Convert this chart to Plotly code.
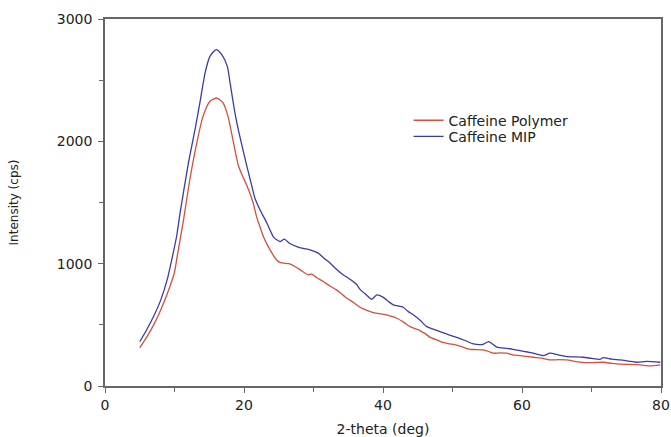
import plotly.graph_objects as go

# Caffeine Polymer (red)
polymer_x = [5, 6, 7, 8, 9, 10, 10.3, 11.3, 12.2, 13.2, 14.1, 15.1, 16.1, 17.0, 17.7, 18.5, 19.2,
             19.8, 20.4, 21.3, 21.8, 22.3, 22.8, 23.3, 24.2, 24.7, 25.2, 26.6, 27.4, 28.1, 29.3,
             29.7, 30.5, 31.4, 32.3, 33.3, 34.8, 35.8, 36.7, 37.6, 38.6, 39.5, 40.5, 42.0, 43.0,
             43.9, 45.3, 46.0, 46.8, 47.8, 48.7, 49.6, 50.6, 51.5, 52.5, 53.5, 54.4, 55.2, 55.9,
             56.8, 57.8, 58.7, 60.2, 61.6, 62.8, 64.0, 65.2, 66.4, 67.8, 69.3, 70.5, 71.7, 72.9,
             74.1, 75.5, 77.0, 78.4, 79.9]
polymer_y = [313, 400, 500, 620, 760, 930, 1031, 1358, 1686, 1986, 2204, 2327, 2354, 2313, 2204,
             1986, 1800, 1715, 1640, 1500, 1385, 1300, 1220, 1160, 1070, 1030, 1008, 998, 975,
             949, 908, 917, 885, 854, 820, 786, 718, 680, 644, 620, 600, 592, 581, 554, 520, 485,
             453, 430, 398, 375, 354, 345, 335, 318, 300, 298, 295, 282, 268, 270, 268, 254, 245,
             235, 228, 213, 215, 213, 200, 191, 192, 194, 185, 178, 176, 172, 164, 172]

# Caffeine MIP (blue)
mip_x = [5, 6, 7, 8, 9, 9.6, 10.3, 10.8, 12.0, 12.95, 13.7, 14.4, 15.1, 16.0, 16.8, 17.6, 18.0,
         18.7, 19.4, 20.4, 20.9, 21.6, 22.3, 23.3, 24.2, 24.7, 25.2, 25.8, 26.6, 27.6, 28.5,
         29.5, 30.7, 31.5, 32.4, 33.3, 34.3, 35.2, 36.2, 36.7, 37.5, 38.4, 39.1, 40.0, 40.8,
         41.5, 42.9, 43.6, 44.4, 45.3, 46.3, 47.2, 48.2, 49.4, 50.6, 51.8, 53.0, 54.4, 55.2,
         56.4, 57.8, 58.7, 59.7, 60.6, 61.6, 63.1, 64.0, 65.2, 66.4, 67.6, 68.8, 70.0, 71.2,
         71.7, 72.9, 74.1, 75.3, 76.5, 77.9, 79.9]
mip_y = [362, 460, 570, 700, 880, 1031, 1222, 1413, 1822, 2095, 2330, 2560, 2695, 2750, 2709,
         2613, 2477, 2231, 2040, 1800, 1686, 1530, 1440, 1331, 1222, 1195, 1181, 1200, 1165,
         1140, 1125, 1113, 1086, 1045, 1004, 955, 908, 875, 830, 790, 750, 709, 745, 726, 690,
         663, 644, 610, 581, 540, 485, 465, 444, 420, 398, 372, 344, 341, 363, 317, 308, 300,
         289, 280, 268, 248, 268, 255, 240, 238, 235, 226, 218, 232, 220, 213, 204, 194, 202, 194]

x_tickvals = [0, 20, 40, 60, 80]
y_tickvals = [0, 1000, 2000, 3000]

font_family = "DejaVu Sans, Arial, sans-serif"
text_color = "#222222"

fig = go.Figure()
fig.add_trace(go.Scatter(x=polymer_x, y=polymer_y, mode="lines", name="Caffeine Polymer",
                         line=dict(color="#d2503f", width=1.3, shape="spline", smoothing=0.6),
                         legend="legend"))
fig.add_trace(go.Scatter(x=mip_x, y=mip_y, mode="lines", name="Caffeine MIP",
                         line=dict(color="#3a3ca6", width=1.3, shape="spline", smoothing=0.6),
                         legend="legend2"))

axis_common = dict(
    showgrid=False, zeroline=False, showline=True, linecolor="#666666", linewidth=1.5,
    mirror=True, ticks="outside", ticklen=5, tickwidth=1.2, tickcolor="#666666",
    tickfont=dict(family=font_family, size=14, color=text_color), automargin=False,
)

fig.update_xaxes(range=[0, 80], tickvals=x_tickvals,
                 minor=dict(tickvals=[10, 30, 50, 70], ticks="outside", ticklen=4,
                            tickcolor="#666666", tickwidth=1.2),
                 title=dict(text="2-theta (deg)", font=dict(family=font_family, size=14, color=text_color),
                            standoff=13),
                 **axis_common)
fig.update_yaxes(range=[0, 3000], tickvals=y_tickvals, ticklabelstandoff=3,
                 minor=dict(tickvals=[500, 1500, 2500], ticks="outside", ticklen=4,
                            tickcolor="#666666", tickwidth=1.2),
                 title=dict(text="Intensity (cps)", font=dict(family=font_family, size=12, color=text_color),
                            standoff=36),
                 **axis_common)

legend_style = dict(xanchor="left", yanchor="middle", bgcolor="rgba(0,0,0,0)",
                    font=dict(family=font_family, size=14, color=text_color))

fig.update_layout(
    width=671, height=437,
    margin=dict(l=105, r=10, t=19, b=51),
    paper_bgcolor="white", plot_bgcolor="white",
    showlegend=True,
    legend=dict(x=0.546, y=0.723, **legend_style),
    legend2=dict(x=0.546, y=0.679, **legend_style),
)

fig.write_html("out.html",
               config={"displayModeBar": False},
               post_script="document.body.style.margin='0';document.body.style.overflow='hidden';")
